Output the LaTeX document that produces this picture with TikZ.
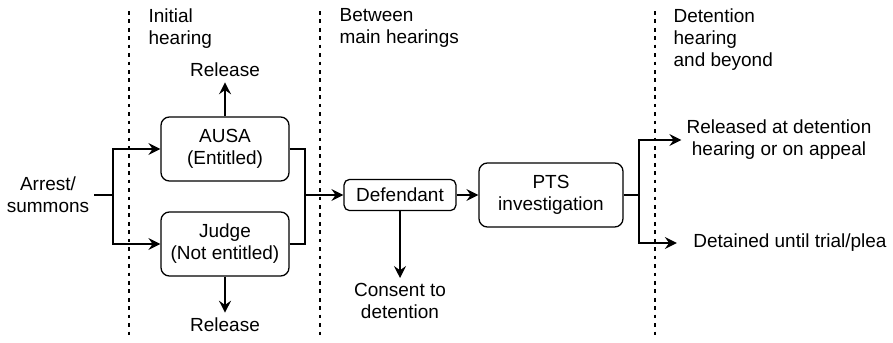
\documentclass[tikz,border=0pt]{standalone}
\usepackage{fontspec}
\setmainfont{Liberation Sans}
\usetikzlibrary{arrows.meta}

\begin{document}
\begin{tikzpicture}[x=0.025cm,y=-0.025cm,line width=0.9pt,
        every node/.style={font=\fontsize{13.5}{15.6}\selectfont},
        box/.style={draw,rounded corners=6pt,align=center,minimum width=3.2cm,minimum height=1.6cm},
        smallbox/.style={draw,rounded corners=4pt,align=center,minimum width=2.8cm,minimum height=0.78cm},
        phase/.style={anchor=north west,align=left,inner sep=0pt},
        arr/.style={-{Stealth[length=8.5pt,width=8.5pt,inset=3pt]}},
        sep/.style={line width=0.9pt,dash pattern=on 2.6pt off 3.4pt}]
        \useasboundingbox (0,0) rectangle (893,342);
        % 阶段分隔线与标题
        \draw [sep] (129,11) -- (129,340);
        \draw [sep] (320,11) -- (320,340);
        \draw [sep] (655,11) -- (655,340);
        \node [phase] (initial) at (148,8) {Initial\\hearing};
        \node [phase] (between) at (339,8) {Between\\main hearings};
        \node [phase] (detention) at (673,8) {Detention\\hearing\\and beyond};
        % 节点
        \node [align=center] (arrest) at (48,195) {Arrest/\\summons};
        \coordinate (split) at (113,195);
        \node [box] (ausa) at (225,149) {AUSA\\(Entitled)};
        \node [box] (judge) at (225,244) {Judge\\(Not entitled)};
        \node (release1) at (225,70) {Release};
        \node (release2) at (225,325) {Release};
        \coordinate (merge) at (305,195);
        \node [smallbox] (defendant) at (400,195) {Defendant};
        \node [align=center] (consent) at (400,301) {Consent to\\detention};
        \node [box,minimum width=3.6cm] (pts) at (551,195) {PTS\\investigation};
        \coordinate (fork) at (639,195);
        \node [align=center] (released) at (779,140) {Released at detention\\hearing or on appeal};
        \node [inner xsep=0.4cm] (detained) at (790,243) {Detained until trial/plea};
        % 连线
        \draw (arrest) -- (split);
        \draw [arr] (split) |- (ausa);
        \draw [arr] (split) |- (judge);
        \draw [arr] (ausa) -- (release1);
        \draw [arr] (judge) -- (release2);
        \draw (ausa) -| (merge);
        \draw (judge) -| (merge);
        \draw [arr] (merge) -- (defendant);
        \draw [arr] (defendant) -- (consent);
        \draw [arr] (defendant) -- (pts);
        \draw (pts) -- (fork);
        \draw [arr] (fork) |- (released);
        \draw [arr] (fork) |- (detained);
\end{tikzpicture}
\end{document}
